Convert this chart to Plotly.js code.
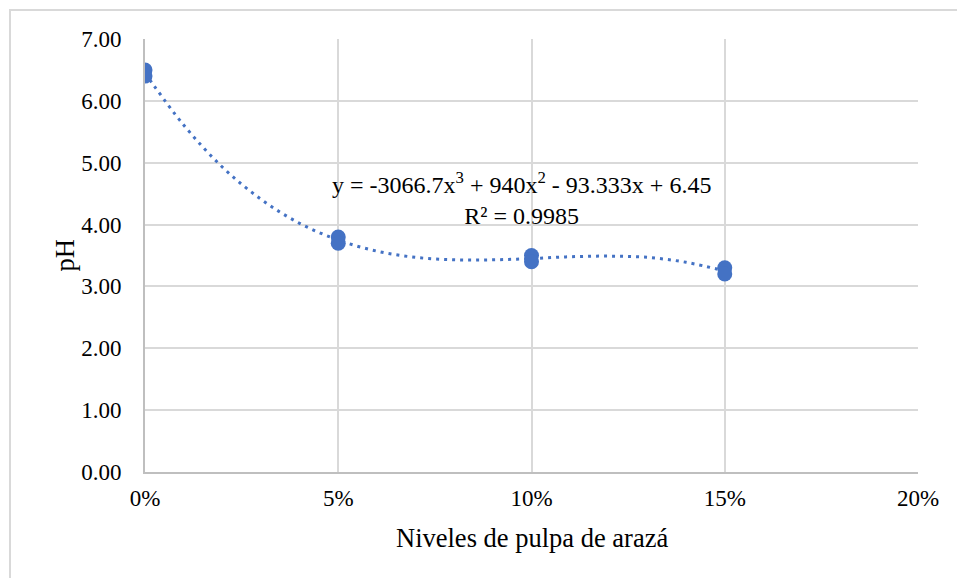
<!DOCTYPE html>
<html>
<head>
<meta charset="utf-8">
<script src="https://cdn.plot.ly/plotly-3.0.1.min.js"></script>
<style>
  html, body { margin: 0; padding: 0; background: #fff; }
  #wrap { position: relative; width: 957px; height: 578px; overflow: hidden; }
  #frame { position: absolute; left: 9px; top: 9px; width: 1000px; height: 1000px;
           border-left: 2px solid #d9d9d9; border-top: 2px solid #d9d9d9; pointer-events: none; }
  #chart { position: absolute; left: 0; top: 0; width: 957px; height: 578px; }
</style>
</head>
<body>
<div id="wrap">
  <div id="chart"></div>
  <div id="frame"></div>
</div>
<script>
// Measured pH values (two replicates per level)
const pulpLevels = [0, 0, 0.05, 0.05, 0.10, 0.10, 0.15, 0.15];
const phValues   = [6.5, 6.4, 3.8, 3.7, 3.5, 3.4, 3.3, 3.2];

// Polynomial trendline
const trendX = [0, 0.01, 0.02, 0.03, 0.04, 0.05, 0.06, 0.07, 0.08, 0.09, 0.10, 0.11, 0.12, 0.13, 0.14, 0.15];
const trendY = [6.45, 5.61, 4.93, 4.41, 4.02, 3.75, 3.57, 3.47, 3.43, 3.43, 3.45, 3.48, 3.49, 3.47, 3.39, 3.25];

const equationText = "y = -3066.7x<sup>3</sup> + 940x<sup>2</sup> - 93.333x + 6.45<br>R² = 0.9985";
const xTitle = "Niveles de pulpa de arazá";
const yTitle = "pH";

const blue = "#4472C4";
const serif = "Liberation Serif";

const traces = [
  {
    x: trendX, y: trendY, type: "scatter", mode: "lines",
    line: { color: blue, width: 3, dash: "3px,5px", shape: "spline" },
    hoverinfo: "skip", showlegend: false
  },
  {
    x: pulpLevels, y: phValues, type: "scatter", mode: "markers",
    marker: { color: blue, size: 15 },
    showlegend: false
  }
];

const layout = {
  width: 957, height: 578,
  margin: { l: 145, r: 39, t: 39, b: 106 },
  paper_bgcolor: "#fff", plot_bgcolor: "#fff",
  font: { family: serif, size: 23, color: "#000" },
  showlegend: false,
  xaxis: {
    range: [0, 0.2], dtick: 0.05, tick0: 0, tickformat: ".0%",
    showgrid: true, gridcolor: "#d9d9d9", gridwidth: 2,
    showline: true, linecolor: "#bfbfbf", linewidth: 2,
    zeroline: false, ticks: "", ticklabelstandoff: 4,
    tickfont: { family: serif, size: 23, color: "#000" },
    fixedrange: true
  },
  yaxis: {
    range: [0, 7], dtick: 1, tick0: 0, tickformat: ".2f",
    showgrid: true, gridcolor: "#d9d9d9", gridwidth: 2,
    showline: true, linecolor: "#bfbfbf", linewidth: 2,
    zeroline: false, ticks: "", ticklabelstandoff: 17,
    tickfont: { family: serif, size: 23, color: "#000" },
    fixedrange: true
  },
  annotations: [
    {
      x: 0.0975, y: 4.42, xref: "x", yref: "y",
      text: equationText, showarrow: false,
      font: { family: serif, size: 24, color: "#000" },
      align: "center", bgcolor: "rgba(0,0,0,0)"
    },
    {
      x: 0.5, y: 0, xref: "paper", yref: "paper",
      xanchor: "center", yanchor: "middle", yshift: -66,
      text: xTitle, showarrow: false,
      font: { family: serif, size: 26.5, color: "#000" }
    },
    {
      x: 0, y: 0.5, xref: "paper", yref: "paper",
      xanchor: "center", yanchor: "middle", xshift: -81,
      text: yTitle, showarrow: false, textangle: -90,
      font: { family: serif, size: 26.5, color: "#000" }
    }
  ]
};

Plotly.newPlot("chart", traces, layout, { displayModeBar: false, staticPlot: true });
</script>
</body>
</html>
